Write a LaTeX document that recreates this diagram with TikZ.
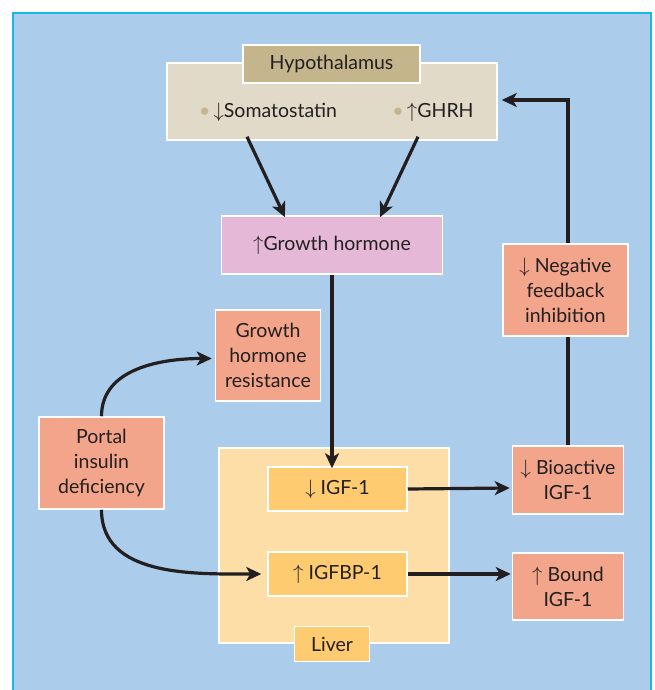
\documentclass[tikz,border=0pt]{standalone}
\usepackage{fontspec}
\setmainfont{Lato}
\usetikzlibrary{arrows.meta,calc}
\definecolor{bgblue}{HTML}{ABCDEB}
\definecolor{frame}{HTML}{1BB5E8}
\definecolor{hypbg}{HTML}{E2DAC8}
\definecolor{hyplab}{HTML}{C5B58D}
\definecolor{ghpink}{HTML}{E6B8D7}
\definecolor{salmon}{HTML}{F2A58A}
\definecolor{liverbg}{HTML}{FDDEA7}
\definecolor{igfbox}{HTML}{FECB71}
\definecolor{ink}{HTML}{231F20}
\begin{document}
\begin{tikzpicture}[x=1pt,y=-1pt,
  every node/.style={font=\fontsize{19.5}{25}\selectfont, text=ink, inner sep=0pt, align=center},
  box/.style={draw=white, line width=1.5pt, minimum width=#1},
  arr/.style={draw=ink, line width=3.2pt, -{Stealth[length=15pt,width=14pt,inset=4pt]}},
  ln/.style={draw=ink, line width=3.2pt}]
\useasboundingbox (0,0) rectangle (654,690);
\begin{scope}
\clip (0,0) rectangle (654,690);
\fill[white] (0,0) rectangle (654,690);
\draw[frame, fill=bgblue, line width=2pt] (13,13) rectangle (651,720);
\end{scope}

% Hypothalamus
\node[box=330pt, fill=hypbg, minimum height=77pt] (hyp) at (332,101.5) {};
\node[box=177pt, fill=hyplab, minimum height=38pt] (hyplabel) at (331.5,64) {Hypothalamus};
\node (som) at (268,112) {{\color{hyplab}\textbullet}\,$\downarrow$Somatostatin};
\node (ghrh) at (433,112) {{\color{hyplab}\textbullet}\,$\uparrow$GHRH};

% Growth hormone
\node[box=221pt, fill=ghpink, minimum height=58pt] (gh) at (332,245) {$\uparrow$Growth hormone};

% Liver
\node[box=230pt, fill=liverbg, minimum height=195pt] (liver) at (334,545.5) {};
\node[box=139pt, fill=igfbox, minimum height=44pt] (igf) at (337.5,489) {$\downarrow$ IGF-1};
\node[box=139pt, fill=igfbox, minimum height=44pt] (igfbp) at (337.5,574) {$\uparrow$ IGFBP-1};
\node[box=75pt, fill=igfbox, minimum height=35pt] (liverlabel) at (332,644) {Liver};

% Right column
\node[box=111pt, fill=salmon, minimum height=68pt] (bio) at (568,480) {$\downarrow$ Bioactive\\IGF-1};
\node[box=125pt, fill=salmon, minimum height=92pt] (neg) at (565.5,290) {$\downarrow$ Negative\\feedback\\inhibition};
\node[box=111pt, fill=salmon, minimum height=67pt] (bound) at (568,586.5) {$\uparrow$ Bound\\IGF-1};

% Left
\node[box=105pt, fill=salmon, minimum height=91pt] (ghres) at (268,355.5) {Growth\\hormone\\resistance};
\node[box=125pt, fill=salmon, minimum height=92pt] (portal) at (101.5,463) {Portal\\insulin\\deficiency};

% Connectors
\draw[arr] ([xshift=-85pt,yshift=4pt]hyp.south) -- ([xshift=-47pt,yshift=-2pt]gh.north);
\draw[arr] ([xshift=86pt,yshift=4pt]hyp.south) -- ([xshift=48pt,yshift=-2pt]gh.north);
\draw[arr] (gh.south) -- ([yshift=-2pt]gh.south |- igf.north);
\draw[arr] (igf.east) -- ([xshift=-2pt,yshift=1pt]igf.east -| bio.west);
\draw[arr] (igfbp.east) -- ([xshift=-1pt]igfbp.east -| bound.west);
\draw[ln] (bio.north) -- (bio.north |- neg.south);
\draw[arr] (bio.north |- neg.north) |- ([xshift=4pt,yshift=1.5pt]hyp.east);
\draw[arr] (portal.north) to[out=90,in=180] ([xshift=-3pt,yshift=-3pt]ghres.west);
\draw[arr] (portal.south) to[out=-90,in=180] ([xshift=-6pt]igfbp.west);
\end{tikzpicture}
\end{document}
